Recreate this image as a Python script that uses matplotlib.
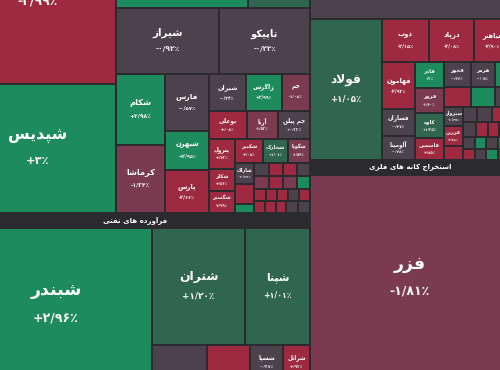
import math
import matplotlib
matplotlib.use("Agg")
import matplotlib.pyplot as plt
from matplotlib.patches import Rectangle

# --- data: symbol, daily change (%), size (market value, arbitrary units) ---
# None = cell too small for a label, "" = symbol name lies outside the frame

# chemical products (group continues above the frame)
chem_names = ["", "شپدیس", None, None, "شیراز", "تاپیکو", "شکام", "کرماشا",
              "فارس", "شبهرن", "پارس", "شیران", "زاگرس", "جم", "بوعلی", "آریا",
              "جم پیلن", "پترول", "شکلر", "شگستر", "شکبیر", "شخارک", "شگویا",
              "شاراک", None, None] + [None] * 18
chem_changes = [-2.99, 3.00, 2.80, 1.40, -0.92, -0.22, 2.98, -1.34,
                -0.57, 2.95, -2.66, -0.34, 2.99, -1.08, -2.08, -1.53,
                0.33, -2.43, -2.56, -2.99, -2.08, 1.01, -1.54,
                0.33, -2.50, 2.50,
                0.20, -2.30, -2.40, -0.30,
                -1.50, -2.20, -1.60, 2.10,
                -2.50, -2.10, -2.60, 0.40, -2.20,
                -2.40, -2.00, -2.70, -0.50, 0.10]
chem_sizes = [30264, 20124, 15576, 7316, 6798, 6006, 3479, 3332,
              2508, 1716, 1892, 1369, 1332, 1036, 1064, 868,
              896, 780, 572, 572, 672, 600, 528,
              399, 380, 171,
              195, 182, 182, 169,
              195, 182, 182, 169,
              144, 132, 132, 132, 132,
              132, 132, 120, 144, 144]

# petroleum products
oil_names = ["شبندر", "شتران", "شپنا", None, None, "شسپا", "شرانل"]
oil_changes = [2.96, 1.20, 1.01, -0.40, -2.30, -0.37, -2.93]
oil_sizes = [29184, 10881, 7605, 1925, 1505, 1155, 945]

# basic metals (group continues above the frame)
metal_names = [None, "فولاد", "ذوب", "درپاد", "فباهنر", "فهامون", "فسازان",
               "آلومینا", "فاذر", "فروز", "کاوه", "فاسمین", "فخوز", "هرمز",
               None, None, None, None, "سبزوار", "فزرین", None] + [None] * 15
metal_changes = [-0.30, 1.05, -2.15, -2.08, -2.90, -2.93, -0.27,
                 -0.28, 3.00, -1.40, 1.35, -2.85, -0.46, -0.05,
                 2.50, -2.40, 2.60, 0.10, 0.37, -2.85, -2.30,
                 0.30, -0.20, -2.20,
                 0.10, -2.40, -2.10, -2.30,
                 -0.20, 2.20, 0.30, 2.40,
                 -2.50, -0.10, 2.30, -2.20]
metal_sizes = [25800, 10152, 2021, 1935, 1548, 1551, 891,
               792, 754, 725, 725, 638, 675, 600,
               375, 540, 480, 300, 361, 380, 266,
               210, 225, 270,
               195, 180, 165, 165,
               144, 132, 144, 144,
               132, 121, 132, 132]

# metal ore mining
ore_names = ["فزر"]
ore_changes = [-1.81]
ore_sizes = [41000]

group_titles = ["فرآورده های نفتی", "استخراج کانه های فلزی"]

names = chem_names + oil_names + metal_names + ore_names
changes = chem_changes + oil_changes + metal_changes + ore_changes
sizes = chem_sizes + oil_sizes + metal_sizes + ore_sizes

# slice-and-dice structure: ('h'|'v', children[, title index]); ints are cells
tree = ('h', [
    ('v', [
        ('h', [
            ('v', [0, 1]),
            ('v', [
                ('h', [2, 3]),
                ('v', [
                    ('h', [4, 5]),
                    ('h', [
                        ('v', [6, 7]),
                        ('v', [8, 9, 10]),
                        ('v', [
                            ('h', [11, 12, 13]),
                            ('h', [14, 15, 16]),
                            ('h', [
                                ('v', [17, 18, 19]),
                                ('v', [
                                    ('h', [20, 21, 22]),
                                    ('h', [
                                        ('v', [23, 24, 25]),
                                        ('v', [('h', [26, 27, 28, 29]),
                                               ('h', [30, 31, 32, 33]),
                                               ('h', [34, 35, 36, 37, 38]),
                                               ('h', [39, 40, 41, 42, 43])]),
                                    ]),
                                ]),
                            ]),
                        ]),
                    ]),
                ]),
            ]),
        ]),
        ('h', [44, ('v', [('h', [45, 46]), ('h', [47, 48, 49, 50])])], 0),
    ]),
    ('v', [
        ('v', [51, ('h', [52, ('v', [
            ('h', [53, 54, 55]),
            ('h', [('v', [56, 57, 58]),
                   ('v', [59, 60, 61, 62]),
                   ('v', [('h', [63, 64, 65]),
                          ('h', [66, 67, 68]),
                          ('h', [('v', [69, 70, 71]),
                                 ('v', [('h', [72, 73, 74]),
                                        ('h', [75, 76, 77, 78]),
                                        ('h', [79, 80, 81, 82]),
                                        ('h', [83, 84, 85, 86])])])])]),
        ])])]),
        ('v', [87], 1),
    ]),
])

HEADER = 15
PAD = 1.3
BG = "#2b2a2f"

# --- minimal Persian shaping (matplotlib draws glyphs left to right, unjoined) ---
DUAL = {"ب": 0xFE8F, "ت": 0xFE95, "ث": 0xFE99, "ج": 0xFE9D, "ح": 0xFEA1,
        "خ": 0xFEA5, "س": 0xFEB1, "ش": 0xFEB5, "ص": 0xFEB9, "ض": 0xFEBD,
        "ط": 0xFEC1, "ظ": 0xFEC5, "ع": 0xFEC9, "غ": 0xFECD, "ف": 0xFED1,
        "ق": 0xFED5, "ل": 0xFEDD, "م": 0xFEE1, "ن": 0xFEE5, "ه": 0xFEE9,
        "پ": 0xFB56, "چ": 0xFB7A, "ک": 0xFB8E, "گ": 0xFB92, "ی": 0xFBFC}
RIGHT = {"ا": 0xFE8D, "آ": 0xFE81, "د": 0xFEA9, "ذ": 0xFEAB, "ر": 0xFEAD,
         "ز": 0xFEAF, "و": 0xFEED, "ژ": 0xFB8A}


def shape(text):
    out = []
    i = 0
    while i < len(text):
        c = text[i]
        if c not in DUAL and c not in RIGHT:
            out.append(c)
            i += 1
            continue
        prev = text[i - 1] if i > 0 else ""
        nxt = text[i + 1] if i + 1 < len(text) else ""
        jp = prev in DUAL
        if c == "ل" and nxt in ("ا", "آ"):
            base = 0xFEFB if nxt == "ا" else 0xFEF5
            out.append(chr(base + (1 if jp else 0)))
            i += 2
            continue
        if c in DUAL:
            jn = nxt in DUAL or nxt in RIGHT
            off = 3 if (jp and jn) else 1 if jp else 2 if jn else 0
            out.append(chr(DUAL[c] + off))
        else:
            out.append(chr(RIGHT[c] + (1 if jp else 0)))
        i += 1
    return "".join(reversed(out))


FA_DIGITS = str.maketrans("0123456789.", "۰۱۲۳۴۵۶۷۸۹/")


def pct(v):
    s = f"{abs(v):.2f}"
    if s.endswith(".00"):
        s = s[:-3]
    sign = "+" if v > 0 else "-" if v < 0 else ""
    return sign + s.translate(FA_DIGITS) + "٪"


def cell_color(c):
    if c >= 2:
        return "#1e8b5c"
    if c >= 1:
        return "#30664f"
    if c > -1:
        return "#4b424c"
    if c > -2:
        return "#7a3a4f"
    return "#9d2a40"


def weight(node):
    if isinstance(node, int):
        return sizes[node]
    return sum(weight(k) for k in node[1])


def fixed_h(node):
    if isinstance(node, int):
        return 0
    inner = [fixed_h(k) for k in node[1]]
    own = HEADER if len(node) > 2 else 0
    return own + (sum(inner) if node[0] == "v" else max(inner))


cells, headers = [], []


def layout(node, x0, y0, x1, y1):
    if isinstance(node, int):
        cells.append((node, x0, y0, x1, y1))
        return
    if len(node) > 2:
        headers.append((node[2], x0, y0, x1))
        y0 += HEADER
    kids = node[1]
    if node[0] == "v":
        avail = (y1 - y0) - sum(fixed_h(k) for k in kids)
        total = sum(weight(k) for k in kids)
        y = y0
        for k in kids:
            h = weight(k) / total * avail + fixed_h(k)
            layout(k, x0, y, x1, y + h)
            y += h
    else:
        raw = [weight(k) / ((y1 - y0) - fixed_h(k)) for k in kids]
        x = x0
        for k, r in zip(kids, raw):
            w = r / sum(raw) * (x1 - x0)
            layout(k, x, y0, x + w, y1)
            x += w


# the map is larger than the visible frame (cropped screenshot)
layout(tree, -40, -110, 510, 380)

fig = plt.figure(figsize=(5, 3.7), dpi=100)
fig.patch.set_facecolor(BG)
ax = fig.add_axes([0, 0, 1, 1])
ax.set_facecolor(BG)
ax.set_xlim(0, 500)
ax.set_ylim(370, 0)
ax.axis("off")

for i, x0, y0, x1, y1 in cells:
    w, h = x1 - x0, y1 - y0
    ax.add_patch(Rectangle((x0 + PAD, y0 + PAD), w - 2 * PAD, h - 2 * PAD,
                           facecolor=cell_color(changes[i]), edgecolor="none"))
    if names[i] is None or w < 17 or h < 13:
        continue
    fs = min(12.5, 0.72 * (3 + 0.09 * math.sqrt(w * h)), 0.2 * w)
    cx, cy = (x0 + x1) / 2, (y0 + y1) / 2
    if names[i]:
        ax.text(cx, cy - 1.1 * fs, shape(names[i]), fontsize=fs,
                fontweight="bold", color="white", ha="center", va="center",
                clip_on=True)
    ax.text(cx, cy + 1.1 * fs, pct(changes[i]), fontsize=0.72 * fs,
            fontweight="bold", color="#f2f2f2", ha="center", va="center",
            clip_on=True)

for t, x0, y0, x1 in headers:
    ax.text((x0 + x1) / 2, y0 + HEADER / 2, shape(group_titles[t]),
            fontsize=5, fontweight="bold", color="white",
            ha="center", va="center", clip_on=True)

fig.savefig("out.png", dpi=100, facecolor=BG)
